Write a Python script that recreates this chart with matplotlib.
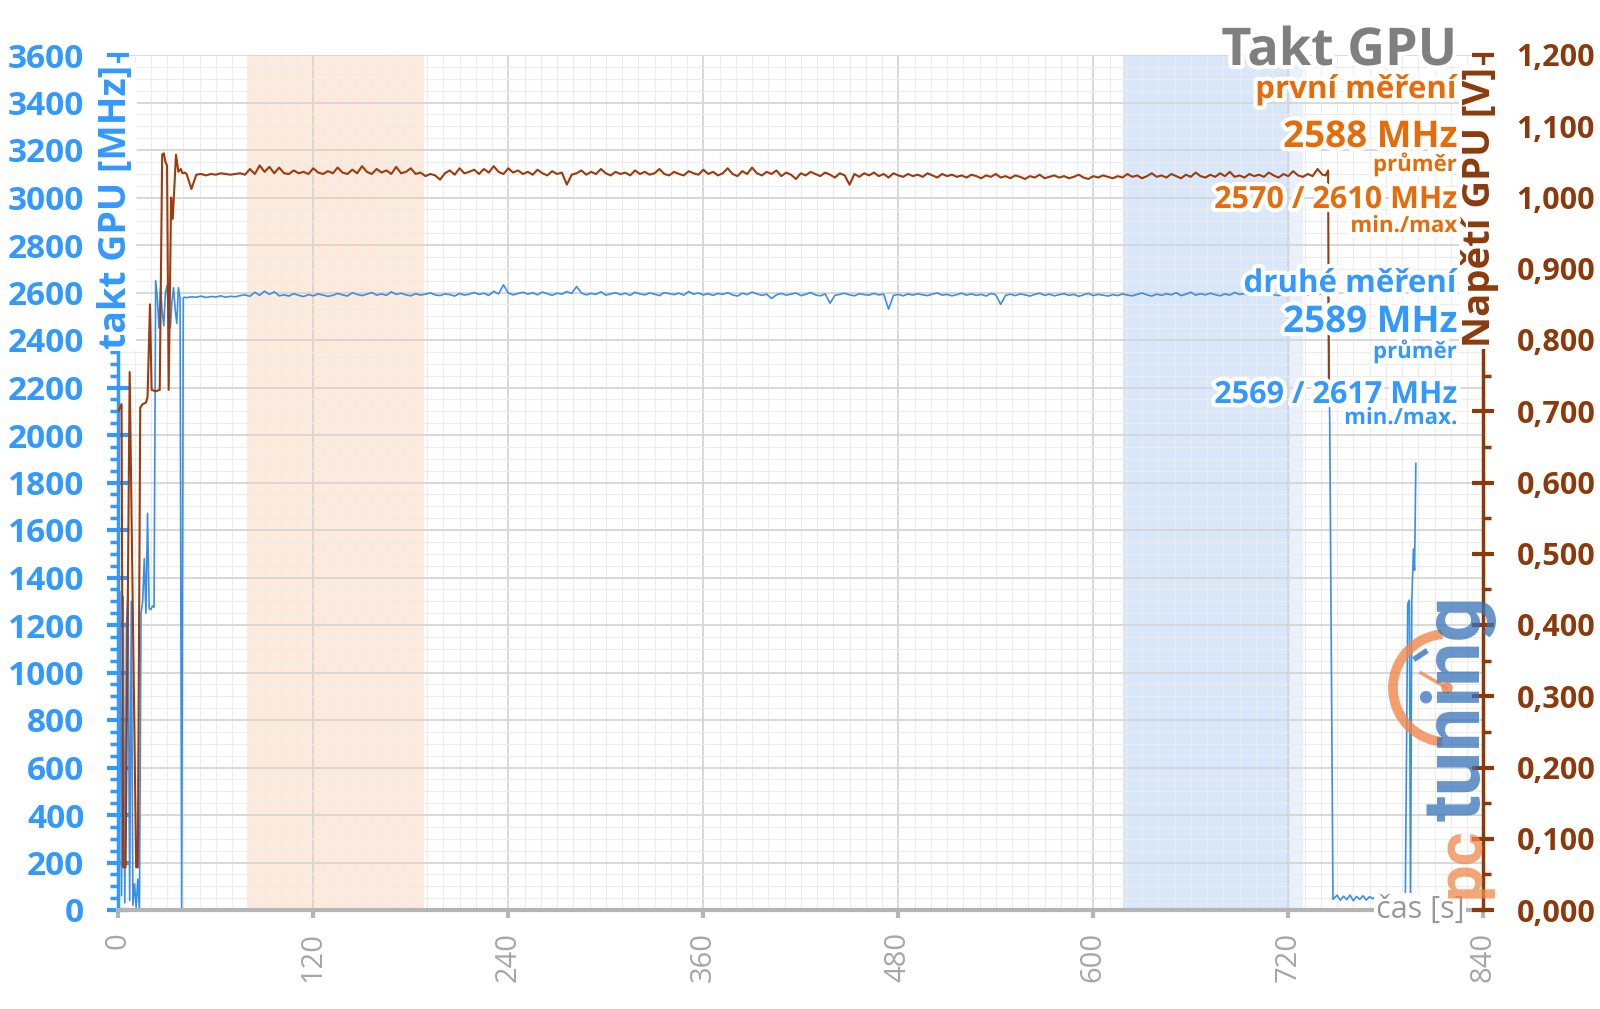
import numpy as np
import matplotlib.pyplot as plt
import matplotlib.patheffects as pe
from matplotlib.patches import Arc, Circle
from matplotlib.ticker import MultipleLocator

plt.rcParams['font.family'] = ['Open Sans', 'DejaVu Sans']

BLUE = "#3399ff"
BLUE_LINE = "#3a8ee8"
BROWN = "#8c3a0c"
BROWN_LINE = "#9c3b0c"
ORANGE = "#e46c0a"
GRAY = "#7f7f7f"

# ---- takt GPU [MHz] ----
clk_start_t = list(range(0, 42))
clk_start = [0, 1340, 60, 1320, 30, 1190, 1340, 40, 1300, 20,
             110, 10, 130, 0, 1250, 1300, 1480, 1250, 1670, 1270,
             1265, 1280, 1275, 2650, 2580, 2450, 2620, 2520, 2460, 2600,
             2630, 2500, 2450, 2560, 2620, 2530, 2470, 2620, 2575, 0,
             2578, 2580]

mid_t = np.arange(42, 742, 3)  # ustaleny beh, vzorek po 3 s
clk_mid = [
    2578, 2582, 2580, 2585, 2579, 2583, 2581, 2586, 2580, 2584,
    2582, 2587, 2590, 2584, 2601, 2588, 2606, 2592, 2603, 2586,
    2590, 2585, 2595, 2588, 2583, 2591, 2586, 2594, 2589, 2584,
    2588, 2596, 2590, 2585, 2599, 2592, 2587, 2593, 2600, 2589,
    2594, 2588, 2603, 2592, 2597, 2590, 2586, 2595, 2589, 2593,
    2598, 2590, 2587, 2594, 2591, 2585, 2596, 2589, 2593, 2600,
    2592, 2597, 2588, 2605, 2594, 2632, 2598, 2590, 2596, 2601,
    2593, 2599, 2590, 2602, 2595, 2588, 2597, 2593, 2604, 2596,
    2625, 2598, 2590, 2596, 2592, 2603, 2589, 2594, 2599, 2591,
    2597, 2588, 2601, 2594, 2590, 2598, 2593, 2587, 2600, 2595,
    2591, 2597, 2589, 2604, 2593, 2598, 2590, 2595, 2588, 2596,
    2592, 2599, 2590, 2585, 2597, 2591, 2602, 2594, 2588, 2593,
    2575, 2590, 2596, 2589, 2593, 2598, 2587, 2592, 2600, 2590,
    2586, 2594, 2555, 2588, 2592, 2597, 2590, 2586, 2595, 2591,
    2589, 2596, 2590, 2593, 2530, 2588, 2592, 2586, 2594, 2589,
    2595, 2590, 2587, 2593, 2598, 2589, 2592, 2586, 2591, 2597,
    2589, 2594, 2588, 2592, 2585, 2596, 2590, 2550, 2588, 2593,
    2587, 2594, 2590, 2585, 2592, 2597, 2588, 2593, 2586, 2591,
    2595, 2588, 2592, 2584, 2590, 2596, 2587, 2592, 2589, 2585,
    2591, 2587, 2594, 2589, 2586, 2592, 2598, 2590, 2585, 2593,
    2588, 2595, 2590, 2599, 2587, 2593, 2601, 2589, 2595, 2590,
    2597, 2591, 2586, 2594, 2589, 2600, 2592, 2595, 2588, 2596,
    2590, 2594, 2599, 2591, 2587, 2595, 2592, 2589, 2597, 2593,
    2590, 2598, 2592, 2595]

clk_end_t = [743, 744.5, 745.5, 747.5, 750, 752, 754, 756, 758, 760,
             762, 764, 766, 768, 770, 772, 774, 776, 778, 780,
             782, 784, 786, 788, 790, 792, 793.5, 794.5, 795.2, 796,
             797, 797.7, 798.5]
clk_end = [2592, 2585, 2060, 45, 62, 41, 58, 44, 63, 39,
           57, 45, 60, 42, 56, 47, 61, 43, 55, 48,
           59, 44, 57, 46, 52, 30, 1290, 1305, 15, 1300,
           1520, 1430, 1880]

# ---- napeti GPU [V] ----
volt_start_t = [0, 1, 2, 3, 4.5, 7, 11, 12, 13.5, 15, 17, 18, 19.5, 20.5,
                23, 25.5, 27, 28, 29, 30, 31, 32.5, 33.5, 35.5, 37, 38.5,
                39.5, 41]
volt_start = [0.70, 0.705, 0.71, 0.06, 0.06, 0.755, 0.06, 0.06, 0.705, 0.71,
              0.712, 0.72, 0.85, 0.73, 0.728, 0.73, 1.06, 1.062, 1.05, 1.045,
              0.73, 1.00, 0.97, 1.06, 1.036, 1.04, 1.034, 1.035]
volt_mid = [
    1.033, 1.012, 1.032, 1.033, 1.031, 1.033, 1.032, 1.034, 1.033, 1.032,
    1.033, 1.034, 1.032, 1.040, 1.033, 1.045, 1.036, 1.043, 1.034, 1.042,
    1.034, 1.033, 1.038, 1.034, 1.036, 1.033, 1.041, 1.035, 1.033, 1.037,
    1.034, 1.042, 1.035, 1.033, 1.039, 1.034, 1.044, 1.036, 1.033, 1.040,
    1.035, 1.038, 1.033, 1.043, 1.034, 1.036, 1.041, 1.033, 1.035, 1.030,
    1.033, 1.031, 1.025, 1.034, 1.038, 1.032, 1.041, 1.034, 1.036, 1.039,
    1.033, 1.040, 1.035, 1.044, 1.036, 1.033, 1.041, 1.035, 1.038, 1.033,
    1.036, 1.032, 1.039, 1.034, 1.031, 1.037, 1.033, 1.035, 1.018, 1.032,
    1.034, 1.038, 1.032, 1.036, 1.033, 1.040, 1.034, 1.031, 1.036, 1.033,
    1.035, 1.031, 1.038, 1.033, 1.036, 1.032, 1.034, 1.040, 1.033, 1.031,
    1.036, 1.033, 1.031, 1.037, 1.034, 1.032, 1.039, 1.033, 1.036, 1.031,
    1.034, 1.041, 1.033, 1.030, 1.037, 1.033, 1.042, 1.034, 1.031, 1.036,
    1.033, 1.038, 1.030, 1.035, 1.032, 1.026, 1.034, 1.031, 1.036, 1.033,
    1.030, 1.035, 1.032, 1.028, 1.034, 1.031, 1.018, 1.033, 1.029, 1.034,
    1.031, 1.035, 1.030, 1.033, 1.028, 1.034, 1.031, 1.029, 1.033, 1.030,
    1.032, 1.029, 1.034, 1.031, 1.028, 1.033, 1.030, 1.032, 1.029, 1.031,
    1.028, 1.032, 1.030, 1.027, 1.031, 1.029, 1.033, 1.028, 1.030, 1.027,
    1.031, 1.029, 1.026, 1.030, 1.028, 1.032, 1.027, 1.029, 1.031, 1.028,
    1.030, 1.027, 1.029, 1.032, 1.028, 1.026, 1.030, 1.028, 1.031, 1.029,
    1.027, 1.030, 1.028, 1.033, 1.029, 1.031, 1.027, 1.030, 1.034, 1.029,
    1.031, 1.028, 1.033, 1.030, 1.027, 1.032, 1.029, 1.035, 1.030, 1.028,
    1.032, 1.029, 1.034, 1.030, 1.036, 1.029, 1.031, 1.028, 1.033, 1.030,
    1.032, 1.029, 1.035, 1.031, 1.028, 1.033, 1.030, 1.037, 1.031, 1.029,
    1.033, 1.030, 1.040, 1.032]
volt_end_t = [743, 744.5, 745, 747]
volt_end = [1.031, 1.038, 0.72, 0.715]

x_ticks = [0, 120, 240, 360, 480, 600, 720, 840]
clk_ticks = list(range(0, 3601, 200))
volt_ticks = [0.0, 0.1, 0.2, 0.3, 0.4, 0.5, 0.6, 0.7, 0.8, 0.9, 1.0, 1.1, 1.2]

band_first = (79, 188.4)
band_second = (618.5, 721)
band_second_fade = (721, 729)

notes = [
    # text, baseline y [px], barva, velikost
    ("první měření", 98, ORANGE, 22.5),
    ("2588 MHz", 147, ORANGE, 26.5),
    ("průměr", 171, ORANGE, 16),
    ("2570 / 2610 MHz", 208, ORANGE, 22),
    ("min./max", 232, ORANGE, 16),
    ("druhé měření", 292, BLUE, 22.5),
    ("2589 MHz", 332, BLUE, 26.5),
    ("průměr", 358, BLUE, 16),
    ("2569 / 2617 MHz", 403, BLUE, 22),
    ("min./max.", 424, BLUE, 16),
]

W, H = 1600, 1009


def fx(x):
    return x / W


def fy(y):
    return 1 - y / H


clk_t = np.concatenate([clk_start_t, mid_t, clk_end_t])
clk = np.concatenate([clk_start, clk_mid, clk_end])
volt_t = np.concatenate([volt_start_t, mid_t, volt_end_t])
volt = np.concatenate([volt_start, volt_mid, volt_end])

fig = plt.figure(figsize=(16, 10.09), dpi=100)
L, R, T, B = 118.3, 1483.3, 55, 910
ax = fig.add_axes([fx(L), fy(B), (R - L) / W, (B - T) / H])
ax2 = ax.twinx()

ax.axvspan(*band_first, color="#fdeadb", lw=0, zorder=0)
ax.axvspan(*band_second, color="#d8e7fa", lw=0, zorder=0)
ax.axvspan(*band_second_fade, color="#e8f1fc", lw=0, zorder=0)

ax.set_xlim(0, 840)
ax.set_ylim(0, 3600)
ax.xaxis.set_minor_locator(MultipleLocator(10))
ax.yaxis.set_minor_locator(MultipleLocator(50))
ax.set_axisbelow(True)
ax.grid(which="major", color="#d6d6d6", lw=1.3)
ax.grid(which="minor", color="#ececec", lw=0.8)

ax.plot(clk_t, clk, color=BLUE_LINE, lw=1.2, zorder=2)
ax2.plot(volt_t, volt, color=BROWN_LINE, lw=1.5)
ax2.set_ylim(0, 1.2)
ax2.yaxis.set_minor_locator(MultipleLocator(0.05))

ax.set_xticks(x_ticks, labels=[str(v) for v in x_ticks])
ax.set_yticks(clk_ticks, labels=[str(v) for v in clk_ticks], fontweight="bold")
ax2.set_yticks(volt_ticks, labels=[f"{v:.3f}".replace(".", ",") for v in volt_ticks],
               fontweight="bold")

for s in ["top", "right"]:
    ax.spines[s].set_visible(False)
ax.spines["left"].set_color(BLUE)
ax.spines["left"].set_linewidth(2.5)
ax.spines["bottom"].set_color("#b5b5b5")
ax.spines["bottom"].set_linewidth(3)
for s in ["top", "left", "bottom"]:
    ax2.spines[s].set_visible(False)
ax2.spines["right"].set_color(BROWN)
ax2.spines["right"].set_linewidth(2.5)

ax.tick_params(axis="x", which="major", direction="out", length=6, width=3,
               color="#b5b5b5", labelcolor="#a6a6a6", labelsize=21,
               labelrotation=90, pad=10)
ax.tick_params(axis="x", which="minor", length=0)
ax.tick_params(axis="y", which="major", direction="inout", length=16, width=3,
               color=BLUE, labelcolor=BLUE, labelsize=24, pad=16.5)
ax.tick_params(axis="y", which="minor", direction="out", length=6, width=2.5,
               color=BLUE)
ax2.tick_params(axis="y", which="major", direction="inout", length=16, width=3,
                color=BROWN, labelcolor=BROWN, labelsize=22, pad=16)
ax2.tick_params(axis="y", which="minor", direction="out", length=6, width=2.5,
                color=BROWN)

# popisky os s bilym podkladem pres spine
fig.text(fx(116), fy(207), "takt GPU [MHz]", rotation=90, ha="center", va="center",
         color=BLUE, fontsize=27, fontweight="bold",
         bbox=dict(facecolor="white", edgecolor="none", pad=1))
fig.text(fx(1480), fy(207), "Napětí GPU [V]", rotation=90, ha="center", va="center",
         color=BROWN, fontsize=27.5, fontweight="bold",
         bbox=dict(facecolor="white", edgecolor="none", pad=1))
fig.text(fx(1420), fy(910), "čas [s]", ha="center", va="center",
         color="#999999", fontsize=22,
         bbox=dict(facecolor="white", edgecolor="none", pad=1))

glow = [pe.withStroke(linewidth=6, foreground="white")]
fig.text(fx(1457), fy(65), "Takt GPU", ha="right", va="baseline", color=GRAY,
         fontsize=37.5, fontweight="bold", path_effects=glow)
for txt, yb, col, size in notes:
    fig.text(fx(1457), fy(yb), txt, ha="right", va="baseline", color=col,
             fontsize=size, fontweight="bold", path_effects=glow)

# logo pctuning
lax = fig.add_axes([0, 0, 1, 1], zorder=5)
lax.set_xlim(0, W)
lax.set_ylim(H, 0)
lax.axis("off")
lax.patch.set_alpha(0)
logo_or = "#f0884a"
logo_bl = "#3672b8"
lax.add_patch(Arc((1447, 688), 108, 108, theta1=95, theta2=265, color=logo_or,
                  lw=7, alpha=0.8))
lax.plot([1447, 1421], [688, 673], color=logo_or, lw=2.5, alpha=0.8)
lax.add_patch(Circle((1447, 688), 5, color=logo_or, alpha=0.8))
lax.plot([1416, 1425], [658, 652], color=logo_bl, lw=4, alpha=0.8)
lax.text(1480, 821, "tuning", rotation=90, rotation_mode="anchor", ha="left",
         va="baseline", fontsize=57, family="Roboto", fontweight="bold",
         color=logo_bl, alpha=0.75)
lax.text(1480, 898, "pc", rotation=90, rotation_mode="anchor", ha="left",
         va="baseline", fontsize=47, family="Roboto", fontweight="bold",
         color=logo_or, alpha=0.75)

fig.savefig("out.png", dpi=100)
